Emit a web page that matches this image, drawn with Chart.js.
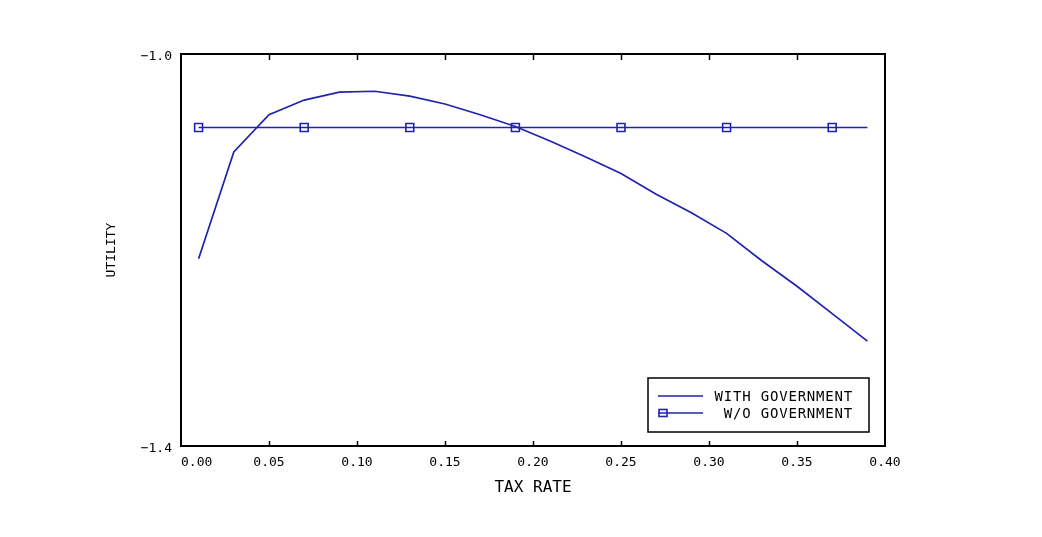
<!DOCTYPE html>
<html>
<head>
<meta charset="utf-8">
<script src="https://cdn.jsdelivr.net/npm/chart.js@4/dist/chart.umd.min.js"></script>
<style>
  html, body { margin: 0; padding: 0; background: #ffffff; }
  #wrap { width: 1042px; height: 537px; }
</style>
</head>
<body>
<div id="wrap"><canvas id="c" width="1042" height="537"></canvas></div>
<script>
// ---- data ----
const taxRates = [0.01, 0.03, 0.05, 0.07, 0.09, 0.11, 0.13, 0.15, 0.17, 0.19,
                  0.21, 0.23, 0.25, 0.27, 0.29, 0.31, 0.33, 0.35, 0.37, 0.39];
const withGov  = [-1.209, -1.100, -1.062, -1.047, -1.039, -1.038, -1.043, -1.051, -1.062, -1.074,
                  -1.089, -1.105, -1.122, -1.143, -1.162, -1.183, -1.211, -1.237, -1.265, -1.293];
const woGovRates = [0.01, 0.07, 0.13, 0.19, 0.25, 0.31, 0.37, 0.39];
const woGov      = [-1.075, -1.075, -1.075, -1.075, -1.075, -1.075, -1.075, -1.075];
const woGovMarker = [true, true, true, true, true, true, true, false];
const xTickValues = [0.00, 0.05, 0.10, 0.15, 0.20, 0.25, 0.30, 0.35, 0.40];
const yTickValues = [-1.4, -1.0];
const seriesLabels = ['WITH GOVERNMENT', 'W/O GOVERNMENT'];
const axisTitles = { x: 'TAX RATE', y: 'UTILITY' };

const BLUE = '#2222b0';
const tickFont = { family: "'DejaVu Sans Mono', monospace", size: 13 };

const framePlugin = {
  id: 'frame',
  afterDraw(chart) {
    const { ctx, chartArea: a, scales } = chart;
    ctx.save();
    ctx.strokeStyle = '#000';
    ctx.lineWidth = 2;
    ctx.strokeRect(a.left, a.top, a.right - a.left, a.bottom - a.top);
    // inward tick marks on top and bottom edges
    ctx.lineWidth = 1.5;
    const xs = scales.x;
    xTickValues.slice(1, -1).forEach(v => {
      const px = Math.round(xs.getPixelForValue(v)) + 0.5;
      ctx.beginPath();
      ctx.moveTo(px, a.top); ctx.lineTo(px, a.top + 6);
      ctx.moveTo(px, a.bottom); ctx.lineTo(px, a.bottom - 5);
      ctx.stroke();
    });
    // legend box inside the plot area (lower right)
    const bx = a.right - 237, by = a.bottom - 68, bw = 221, bh = 54;
    ctx.fillStyle = '#fff';
    ctx.fillRect(bx, by, bw, bh);
    ctx.strokeStyle = '#000';
    ctx.lineWidth = 1.5;
    ctx.strokeRect(bx, by, bw, bh);
    ctx.font = "14px 'DejaVu Sans Mono', monospace";
    try { ctx.letterSpacing = '0.8px'; } catch (e) {}
    ctx.textBaseline = 'middle';
    ctx.textAlign = 'right';
    const rows = [by + 18, by + 35];
    chart.data.datasets.forEach((ds, i) => {
      const y = rows[i];
      ctx.strokeStyle = BLUE;
      ctx.lineWidth = 1.6;
      ctx.beginPath();
      ctx.moveTo(bx + 10, y); ctx.lineTo(bx + 55, y);
      ctx.stroke();
      if (i === 1) {
        ctx.strokeRect(bx + 11, y - 3.5, 8, 7);
      }
      ctx.fillStyle = '#000';
      ctx.fillText(ds.label, bx + 205, y + 1);
    });
    ctx.restore();
  }
};

new Chart(document.getElementById('c'), {
  type: 'line',
  data: {
    datasets: [
      {
        label: seriesLabels[0],
        data: taxRates.map((x, i) => ({ x: x, y: withGov[i] })),
        borderColor: BLUE,
        borderWidth: 1.7,
        pointRadius: 0,
        tension: 0,
        fill: false
      },
      {
        label: seriesLabels[1],
        data: woGovRates.map((x, i) => ({ x: x, y: woGov[i] })),
        borderColor: BLUE,
        borderWidth: 1.7,
        pointStyle: 'rect',
        pointRadius: woGovMarker.map(m => m ? 5.6 : 0),
        pointBorderColor: BLUE,
        pointBorderWidth: 1.6,
        pointBackgroundColor: 'rgba(0,0,0,0)',
        tension: 0,
        fill: false
      }
    ]
  },
  options: {
    responsive: false,
    animation: false,
    layout: { padding: { top: 54, right: 157, left: 0, bottom: 0 } },
    plugins: {
      legend: { display: false },
      tooltip: { enabled: false }
    },
    scales: {
      x: {
        type: 'linear',
        min: 0,
        max: 0.4,
        afterBuildTicks(scale) { scale.ticks = xTickValues.map(v => ({ value: v })); },
        afterFit(scale) { scale.height = 91; },
        grid: { display: false, drawTicks: false },
        border: { display: false },
        ticks: {
          color: '#000',
          font: tickFont,
          padding: 9,
          maxRotation: 0,
          autoSkip: false,
          callback: (v) => (v === 0 ? '\u2002\u2002\u2002\u2002' : '') + Number(v).toFixed(2)
        },
        title: {
          display: true,
          text: axisTitles.x,
          color: '#000',
          font: { family: "'DejaVu Sans Mono', monospace", size: 16 },
          padding: { top: 4, bottom: 40 }
        }
      },
      y: {
        type: 'linear',
        min: -1.4,
        max: -1.0,
        afterBuildTicks(scale) { scale.ticks = yTickValues.map(v => ({ value: v })); },
        afterFit(scale) { scale.width = 181; },
        grid: { display: false, drawTicks: false },
        border: { display: false },
        ticks: {
          color: '#000',
          font: tickFont,
          padding: 9,
          labelOffset: 3,
          callback: (v) => '\u2212' + Math.abs(Number(v)).toFixed(1)
        },
        title: {
          display: true,
          text: axisTitles.y,
          color: '#000',
          font: { family: "'DejaVu Sans Mono', monospace", size: 13 },
          padding: { top: 104, bottom: 0 }
        }
      }
    }
  },
  plugins: [framePlugin]
});
</script>
</body>
</html>
